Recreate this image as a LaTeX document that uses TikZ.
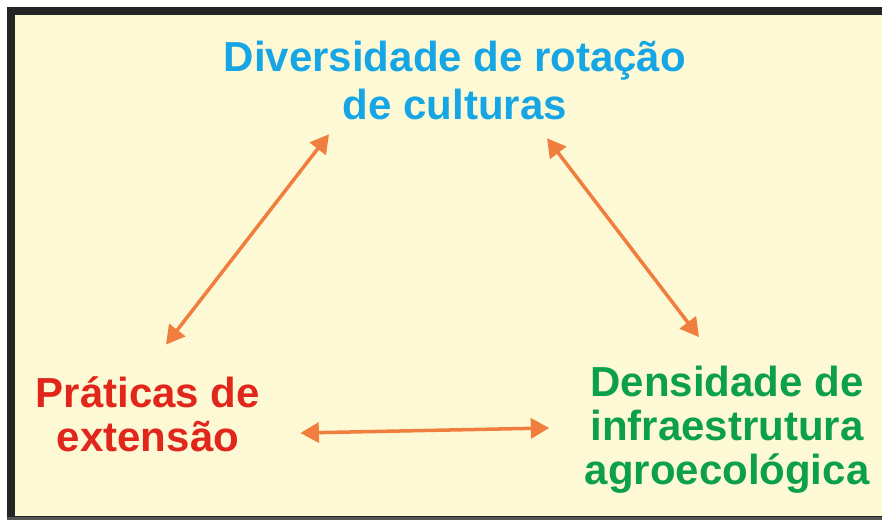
\documentclass[tikz,border=0pt]{standalone}
\usepackage{fontspec}
\setmainfont{Liberation Sans}
\usepackage{xcolor}
\definecolor{RotBlue}    {HTML}{16A6E6}
\definecolor{ExtRed}     {HTML}{E1261C}
\definecolor{InfraGreen} {HTML}{0DA04B}
\definecolor{LinkOrange} {HTML}{F07E3E}
\definecolor{PaperCream} {HTML}{FEF9D5}
\definecolor{FrameDark}  {HTML}{242424}
\definecolor{FrameGray}  {HTML}{555555}
\usetikzlibrary{arrows.meta,positioning}

\begin{document}
\begin{tikzpicture}[x=0.02cm,y=0.02cm,
  concept/.style={font=\fontsize{23.9}{25}\selectfont\bfseries,
    inner sep=0pt,align=center},
  link/.style={{Triangle[length=0.37cm,width=0.4cm]}-{Triangle[length=0.37cm,width=0.4cm]},
    LinkOrange,line width=2pt}]
  \useasboundingbox (0,0) rectangle (882,520);
  % Frame
  \fill[FrameDark] (7,3) rectangle (900,513);
  \fill[FrameGray] (7,0) rectangle (900,3);
  \fill[PaperCream] (15,4) rectangle (900,505);
  \node[concept,text=RotBlue,font=\fontsize{23.9}{27.3}\selectfont\bfseries]
    (div) at (455,439.5) {Diversidade de rotação\\de culturas};
  \node[concept,text=ExtRed](prat) at (148,105.5) {Práticas de\\extensão};
  \node[concept,text=InfraGreen](infra) at (727,90)
    {Densidade de\\infraestrutura\\agroecológica};
  % Links
  \draw[link]([shift={(18,32)}]prat.north) -- ([shift={(-126,-14)}]div.south);
  \draw[link]([shift={(92,-18)}]div.south) -- ([shift={(-28,29)}]infra.north);
  \draw[link]([shift={(40,-18.5)}]prat.east) -- ([shift={(-35,2)}]infra.west);
\end{tikzpicture}
\end{document}
